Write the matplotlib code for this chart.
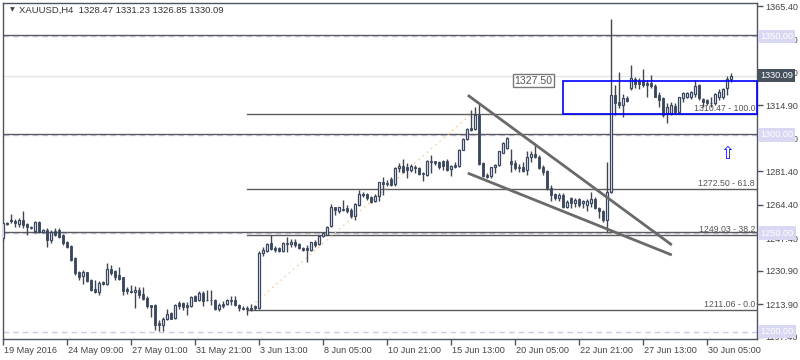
import numpy as np
import matplotlib
matplotlib.use('Agg')
import matplotlib.pyplot as plt
from matplotlib.patches import Rectangle
import matplotlib.transforms as mtransforms

plt.rcParams['font.family'] = ['Liberation Sans', 'DejaVu Sans']

# XAUUSD H4 candles (open, high, low, close)
ohlc = [
    (1247.5,1255.9,1245.8,1255.1),(1254.4,1255.6,1253.9,1254.9),(1256.3,1259.7,1255.1,1256.8),
    (1256.3,1257.3,1253.1,1255.3),(1254.7,1257.9,1252.9,1256.8),(1256.8,1261.0,1252.6,1254.2),
    (1254.6,1255.1,1248.8,1252.9),(1253.1,1253.6,1252.2,1252.7),(1251.2,1256.3,1250.0,1255.6),
    (1255.9,1256.3,1250.2,1250.5),(1250.5,1251.9,1250.3,1251.5),(1251.7,1252.6,1243.2,1246.5),
    (1246.3,1251.7,1244.9,1250.8),(1251.3,1252.6,1248.3,1249.2),(1251.7,1252.6,1247.5,1248.2),
    (1248.8,1249.5,1244.1,1244.8),(1245.3,1246.1,1242.4,1243.0),(1243.6,1244.1,1236.0,1236.5),
    (1237.3,1238.0,1228.9,1229.5),(1230.2,1230.9,1226.3,1227.7),(1228.0,1231.2,1224.1,1230.5),
    (1230.2,1230.5,1225.2,1225.8),(1226.2,1226.5,1220.7,1221.2),(1221.8,1226.3,1219.6,1219.9),
    (1220.1,1225.8,1218.7,1224.6),(1225.2,1225.7,1223.8,1224.4),(1224.1,1234.8,1223.8,1231.9),
    (1231.9,1234.0,1228.9,1229.7),(1230.9,1231.4,1226.3,1227.8),(1228.5,1233.0,1226.2,1226.7),
    (1227.5,1227.8,1218.7,1220.4),(1221.6,1222.4,1219.1,1220.4),(1220.4,1223.8,1219.4,1219.9),
    (1220.1,1222.9,1212.0,1221.2),(1221.2,1222.8,1217.0,1218.7),(1219.2,1222.4,1216.2,1216.5),
    (1217.0,1217.8,1212.0,1212.8),(1213.3,1213.6,1207.2,1212.6),(1213.6,1214.0,1200.9,1203.1),
    (1204.1,1206.0,1200.4,1203.5),(1203.5,1207.2,1200.1,1206.5),(1206.4,1211.6,1206.0,1209.1),
    (1209.3,1209.8,1206.2,1206.5),(1206.9,1214.0,1206.5,1213.6),(1214.3,1215.3,1211.6,1213.1),
    (1214.3,1215.0,1211.1,1212.3),(1213.6,1215.0,1208.6,1212.3),(1212.8,1217.8,1212.6,1217.3),
    (1217.8,1218.7,1215.3,1215.7),(1216.2,1220.4,1215.3,1219.6),(1219.6,1220.4,1212.8,1215.7),
    (1216.2,1221.2,1215.3,1215.8),(1216.2,1221.0,1213.6,1215.8),(1216.2,1216.4,1211.1,1211.4),
    (1211.4,1214.5,1210.3,1213.6),(1214.1,1215.3,1211.9,1213.1),(1214.1,1216.5,1213.6,1215.8),
    (1216.2,1218.2,1213.6,1215.3),(1216.2,1217.8,1212.8,1213.5),(1213.6,1214.1,1210.2,1211.9),
    (1211.9,1212.8,1210.7,1211.4),(1211.6,1212.8,1208.6,1211.5),(1211.6,1214.1,1210.2,1211.9),
    (1212.8,1213.5,1211.1,1211.8),(1211.8,1240.7,1211.4,1239.9),(1239.9,1243.2,1238.5,1241.6),
    (1241.0,1245.0,1240.5,1244.4),(1245.0,1249.2,1241.6,1242.1),(1242.6,1243.6,1240.5,1241.6),
    (1242.2,1242.9,1240.2,1240.7),(1240.7,1245.3,1240.5,1245.0),(1245.0,1248.0,1240.2,1244.3),
    (1244.3,1247.0,1243.2,1245.5),(1245.6,1247.0,1243.2,1244.1),(1244.6,1245.0,1241.9,1242.2),
    (1242.4,1243.2,1241.0,1241.6),(1242.2,1244.1,1235.1,1241.2),(1241.2,1245.6,1240.7,1245.3),
    (1245.6,1246.6,1243.2,1244.1),(1244.6,1248.7,1244.1,1248.3),(1248.7,1250.8,1248.0,1250.0),
    (1249.2,1253.4,1248.8,1253.1),(1253.4,1264.9,1253.2,1263.2),(1263.2,1263.4,1259.3,1261.9),
    (1261.5,1263.4,1260.2,1263.2),(1262.4,1266.9,1261.0,1261.9),(1262.7,1264.4,1260.2,1261.5),
    (1261.9,1262.7,1257.6,1258.8),(1258.8,1265.3,1256.8,1264.9),(1264.4,1272.0,1263.9,1270.0),
    (1269.6,1271.1,1268.6,1270.0),(1270.0,1270.3,1266.9,1267.8),(1268.3,1268.9,1265.3,1265.9),
    (1266.1,1270.0,1265.8,1268.9),(1268.9,1276.2,1266.1,1276.1),(1276.1,1278.4,1269.5,1275.0),
    (1275.7,1277.1,1273.7,1274.9),(1277.7,1278.7,1274.0,1274.5),(1275.0,1283.5,1273.7,1283.3),
    (1283.0,1285.6,1281.3,1284.3),(1284.3,1287.6,1280.5,1281.3),(1283.8,1285.6,1277.9,1282.2),
    (1282.2,1285.1,1281.3,1284.3),(1283.8,1284.7,1280.8,1283.0),(1283.3,1283.5,1279.6,1279.9),
    (1280.8,1281.3,1276.6,1279.9),(1279.6,1287.2,1279.1,1286.7),(1286.7,1289.8,1280.5,1286.1),
    (1286.7,1286.8,1284.7,1285.6),(1285.9,1286.8,1282.7,1283.5),(1286.7,1287.2,1282.2,1284.2),
    (1286.7,1287.6,1281.8,1282.2),(1282.5,1284.7,1279.1,1284.2),(1284.7,1285.9,1283.0,1283.5),
    (1284.2,1292.7,1283.8,1292.3),(1292.3,1298.2,1292.0,1297.7),(1297.7,1303.3,1297.4,1302.8),
    (1303.3,1312.6,1302.1,1302.5),(1302.8,1314.3,1302.5,1310.1),(1310.1,1316.0,1284.7,1285.2),
    (1285.6,1285.9,1278.4,1278.8),(1279.6,1280.5,1277.9,1278.4),(1278.8,1283.8,1277.9,1283.5),
    (1283.5,1285.2,1280.5,1284.7),(1284.7,1291.8,1284.2,1291.5),(1290.9,1296.5,1290.6,1296.0),
    (1293.2,1299.1,1292.7,1298.2),(1286.9,1292.7,1281.3,1285.2),(1285.6,1287.2,1282.2,1283.3),
    (1283.8,1285.2,1281.3,1283.0),(1283.5,1286.4,1281.3,1281.8),(1282.2,1291.5,1279.6,1288.9),
    (1288.9,1291.5,1286.4,1290.1),(1290.1,1294.8,1288.1,1288.9),(1288.9,1289.8,1282.7,1283.3),
    (1283.8,1284.7,1279.6,1281.3),(1281.6,1282.2,1272.0,1272.9),(1272.9,1274.5,1266.1,1269.5),
    (1269.8,1270.3,1266.9,1268.1),(1267.8,1270.3,1266.1,1269.5),(1269.5,1270.3,1262.7,1263.5),
    (1263.5,1266.9,1262.7,1265.8),(1267.8,1268.6,1262.7,1265.3),(1265.3,1267.8,1263.5,1266.9),
    (1267.4,1267.8,1263.5,1264.4),(1265.3,1266.9,1262.7,1266.1),(1264.4,1267.4,1261.0,1266.1),
    (1265.3,1271.1,1263.5,1267.4),(1267.4,1268.6,1262.4,1262.7),(1262.7,1263.5,1257.6,1261.0),
    (1261.5,1261.9,1255.9,1256.8),(1256.8,1286.4,1250.8,1271.1),(1271.1,1359.0,1270.3,1320.2),
    (1320.2,1325.3,1310.1,1316.0),(1316.5,1331.8,1313.5,1315.2),(1315.2,1320.6,1309.2,1318.9),
    (1318.6,1319.7,1316.5,1317.2),(1323.6,1335.4,1322.8,1328.7),(1328.4,1329.5,1323.6,1325.8),
    (1327.5,1328.7,1323.1,1325.8),(1327.5,1333.3,1324.4,1325.3),(1326.2,1327.8,1319.4,1325.1),
    (1326.5,1330.4,1323.6,1324.8),(1324.8,1325.8,1319.1,1319.4),(1320.2,1321.9,1314.3,1317.7),
    (1318.6,1319.4,1309.2,1310.1),(1310.9,1316.3,1305.9,1314.3),(1310.9,1316.8,1310.1,1315.2),
    (1314.7,1316.0,1310.6,1311.8),(1311.8,1319.4,1311.3,1319.1),(1318.6,1321.9,1316.8,1321.4),
    (1319.1,1321.9,1318.6,1321.1),(1319.1,1322.4,1318.1,1321.9),(1320.7,1327.8,1319.4,1324.8),
    (1325.3,1325.7,1317.7,1318.6),(1318.1,1318.6,1314.3,1316.8),(1317.7,1318.1,1315.2,1316.3),
    (1316.3,1319.4,1314.3,1316.0),(1316.0,1321.1,1315.2,1320.7),(1319.1,1323.1,1317.7,1321.9),
    (1319.4,1323.9,1318.1,1323.1),(1323.6,1329.9,1320.2,1328.2),(1328.47,1331.23,1326.85,1330.09),
]

xtick_bars = [0, 16, 32, 48, 64, 80, 96, 112, 128, 144, 160, 176]
xtick_labels = ['19 May 2016', '24 May 09:00', '27 May 01:00', '31 May 21:00', '3 Jun 13:00',
                '8 Jun 05:00', '10 Jun 21:00', '15 Jun 13:00', '20 Jun 05:00', '22 Jun 21:00',
                '27 Jun 13:00', '30 Jun 05:00']
yticks = [1365.40, 1348.40, 1331.40, 1314.90, 1297.90, 1281.40, 1264.40,
          1247.40, 1230.90, 1213.90, 1197.40]

round_levels = [1350, 1300, 1250, 1200]
hlines = [1350.6, 1300.6, 1250.6]
fib_start = 61
fib_levels = [1310.47, 1272.50, 1249.03, 1211.06]
fib_pcts = ['100.0', '61.8', '38.2', '0.0']
fib_end_bar = 117
wedge_upper = [(116.2, 1320.1), (167.2, 1244.0)]
wedge_lower = [(116.2, 1280.5), (167.2, 1238.9)]
box_start = 140
box_top, box_bottom = 1327.50, 1310.47
arrow_pos = (181, 1290.4)
last_price = 1330.09

dark = '#3d4758'
o = np.array([c[0] for c in ohlc]); h = np.array([c[1] for c in ohlc])
l = np.array([c[2] for c in ohlc]); c_ = np.array([c[3] for c in ohlc])
idx = np.arange(len(ohlc))

fig = plt.figure(figsize=(8, 3.6), dpi=100)
ax = fig.add_axes([2.7/800, 21/360, 754.3/800, 336.3/360])
ax.set_xlim(-0.1, 188.5)
ax.set_ylim(1196.2, 1367.1)

# levels
ax.axhline(last_price, color='#e6e6e6', lw=1, zorder=0.5)
for lv in round_levels:
    ax.axhline(lv, color='#c9c9e8', lw=1, ls=(0, (4, 3)), zorder=0.6)
for lv in hlines:
    ax.axhline(lv, color='#5c5c5c', lw=1, zorder=0.7)
for lv, pct in zip(fib_levels, fib_pcts):
    ax.plot([fib_start, 188.5], [lv, lv], color='#5c5c5c', lw=1, zorder=0.7)
    ax.text(188.0, lv + 0.6, '%.2f - %s' % (lv, pct), ha='right', va='bottom',
            fontsize=6.3, color='#555555', zorder=4)
ax.plot([fib_start, fib_end_bar], [fib_levels[3], fib_levels[0]], color='#f6c88e',
        lw=1, ls=(0, (1, 3)), zorder=0.8)

# candles
ax.vlines(idx, l, h, color=dark, lw=1, zorder=2)
up = c_ >= o
bottoms = np.minimum(o, c_)
heights = np.maximum(np.abs(c_ - o), 0.3)
ax.bar(idx[~up], heights[~up], bottom=bottoms[~up], width=0.65, color=dark,
       edgecolor=dark, lw=0.6, zorder=3)
ax.bar(idx[up], heights[up], bottom=bottoms[up], width=0.65, color='white',
       edgecolor=dark, lw=0.9, zorder=3)

# wedge trendlines
for line in (wedge_upper, wedge_lower):
    ax.plot([p[0] for p in line], [p[1] for p in line], color='#6a6a6a', lw=2,
            solid_capstyle='butt', zorder=4)

# rectangle
ax.add_patch(Rectangle((box_start, box_bottom), 188.5 - box_start, box_top - box_bottom,
                       fill=False, edgecolor='#0000ff', lw=1.2, zorder=4, clip_on=False))
ax.text(box_start - 2.6, box_top, '%.2f' % box_top, ha='right', va='center', fontsize=7.6,
        color='#555555', zorder=5,
        bbox=dict(boxstyle='square,pad=0.15', facecolor='white', edgecolor='#777777', lw=1))
ax.text(arrow_pos[0], arrow_pos[1], '\u21e7', ha='center', va='center', fontsize=12,
        color='#1010ff', family='DejaVu Sans', zorder=5)

# axes style
for s in ax.spines.values():
    s.set_color('#4d5563')
    s.set_linewidth(1)
ax.yaxis.tick_right()
ax.set_yticks(yticks)
ax.set_yticklabels(['%.2f' % v for v in yticks])
ax.set_xticks(xtick_bars)
ax.set_xticklabels(xtick_labels, ha='left')
ax.tick_params(axis='y', direction='out', length=4, width=1, color='#4d5563',
               labelsize=6.6, labelcolor='#444444', pad=2)
ax.tick_params(axis='x', direction='out', length=4, width=1, color='#4d5563',
               labelsize=6.6, labelcolor='#444444', pad=1)
offset = mtransforms.ScaledTranslation(1/100, 0, fig.dpi_scale_trans)
for lab in ax.get_xticklabels():
    lab.set_transform(lab.get_transform() + offset)

# right-hand price tags
tr = mtransforms.blended_transform_factory(ax.transAxes, ax.transData)
for lv in round_levels:
    ax.text(1.004, lv, '%.2f' % lv, transform=tr, ha='left', va='center', fontsize=6.6,
            color='white', clip_on=False, zorder=6,
            bbox=dict(boxstyle='square,pad=0.25', facecolor='#d8d8f3', edgecolor='none'))
ax.text(1.004, last_price, '%.2f' % last_price, transform=tr, ha='left', va='center',
        fontsize=6.6, color='white', clip_on=False, zorder=6,
        bbox=dict(boxstyle='square,pad=0.25', facecolor='#48525f', edgecolor='none'))

ax.text(0.009, 0.985, '\u25bc', transform=ax.transAxes, ha='left', va='top',
        fontsize=4.5, color='#444444', family='DejaVu Sans')
ax.text(0.021, 0.99, 'XAUUSD,H4  1328.47 1331.23 1326.85 1330.09', transform=ax.transAxes,
        ha='left', va='top', fontsize=6.8, color='#333333')

fig.savefig('out.png', dpi=100)
